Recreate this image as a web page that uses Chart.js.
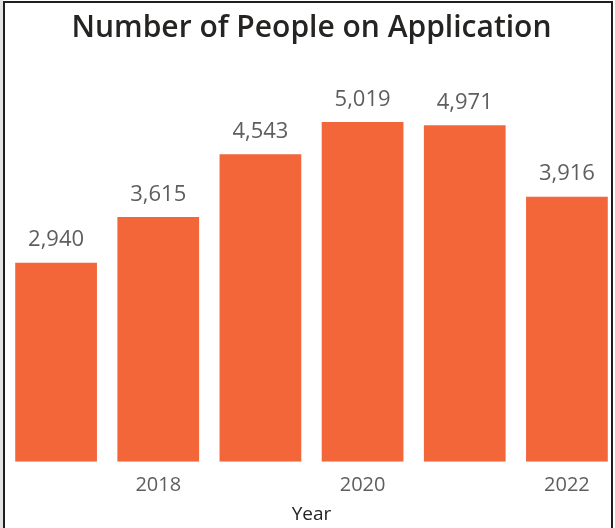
<!DOCTYPE html>
<html><head><meta charset="utf-8">
<script src="https://cdn.jsdelivr.net/npm/chart.js@4.4.1/dist/chart.umd.min.js"></script>
<style>
html,body{margin:0;padding:0;width:615px;height:528px;overflow:hidden;background:#fff;position:relative}
#wrap{position:absolute;left:5px;top:0;width:613px;height:528px}
.b{position:absolute;background:#1f1f1f}
</style></head><body>
<div id="wrap"><canvas id="c" width="613" height="528"></canvas></div>
<div style="position:absolute;left:0;top:0;width:3px;height:528px;background:#e4e4e4"></div>
<div class="b" style="left:3px;top:1px;width:2px;height:527px"></div>
<div class="b" style="left:3px;top:1px;width:610px;height:2px"></div>
<div class="b" style="left:611px;top:1px;width:2px;height:527px"></div>
<div style="position:absolute;left:613px;top:0;width:2px;height:528px;background:#fff"></div>
<script>
const years = ['2017', '2018', '2019', '2020', '2021', '2022'];
const people = [2940, 3615, 4543, 5019, 4971, 3916];
const shownYears = ['2018', '2020', '2022'];

const valueLabels = {
  id: 'valueLabels',
  afterDatasetsDraw(chart) {
    const ctx = chart.ctx;
    const meta = chart.getDatasetMeta(0);
    ctx.save();
    ctx.font = '400 22px "Open Sans"';
    ctx.fillStyle = '#605E5C';
    ctx.textAlign = 'center';
    ctx.textBaseline = 'alphabetic';
    meta.data.forEach((bar, i) => {
      ctx.fillText(people[i].toLocaleString('en-US'), bar.x, bar.y - 16.5);
    });
    ctx.restore();
  }
};

new Chart(document.getElementById('c'), {
  type: 'bar',
  data: {
    labels: years,
    datasets: [{
      data: people,
      backgroundColor: '#F2663A',
      borderWidth: 0,
      barPercentage: 0.8,
      categoryPercentage: 1.0
    }]
  },
  options: {
    responsive: false,
    animation: false,
    layout: { padding: 0 },
    plugins: {
      legend: { display: false },
      tooltip: { enabled: false },
      title: {
        display: true,
        text: 'Number of People on Application',
        color: '#252423',
        font: { family: 'Open Sans', size: 30, weight: '600', lineHeight: 1.2 },
        padding: { top: 10, bottom: 18 }
      }
    },
    scales: {
      x: {
        grid: { display: false, drawTicks: false, tickLength: 0 },
        border: { display: false },
        ticks: {
          autoSkip: false,
          maxRotation: 0,
          padding: 16.5,
          color: '#605E5C',
          font: { family: 'Open Sans', size: 20, lineHeight: 0.7 },
          callback: function (v) {
            const l = this.getLabelForValue(v);
            return shownYears.includes(l) ? l : '';
          }
        },
        title: {
          display: true,
          text: 'Year',
          color: '#252423',
          font: { family: 'Open Sans', size: 19, lineHeight: 1.0 },
          padding: { top: -3.2, bottom: 3.5 }
        }
      },
      y: { display: false, min: 0, max: 5878 }
    }
  },
  plugins: [valueLabels]
});
</script>
</body></html>
